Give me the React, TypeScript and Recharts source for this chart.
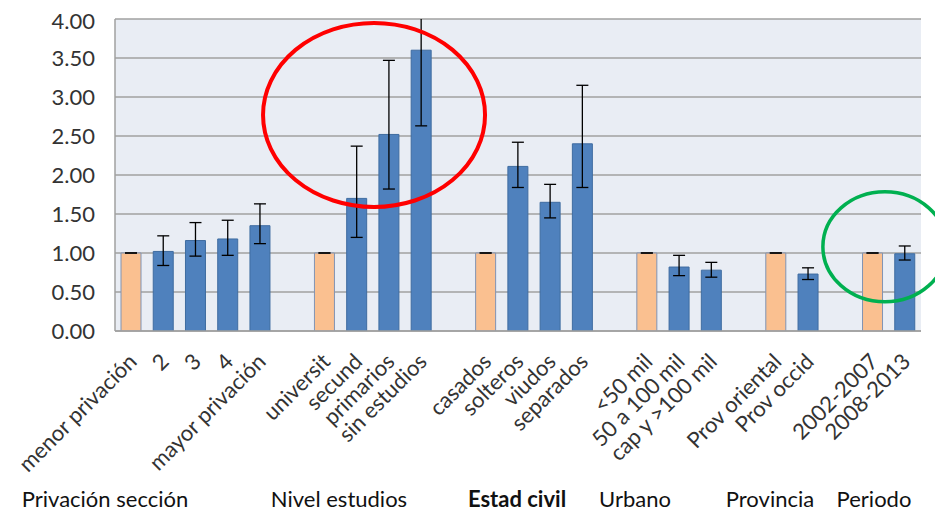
import React from 'react';
import { BarChart, Bar, Cell, XAxis, YAxis, CartesianGrid, ErrorBar, ReferenceDot } from 'recharts';

// blank slots between groups use distinct whitespace so every category stays unique
const categories = [
  'menor privación', '2', '3', '4', 'mayor privación', ' ',
  'universit', 'secund', 'primarios', 'sin estudios', '  ',
  'casados', 'solteros', 'viudos', 'separados', '   ',
  '<50 mil', '50 a 100 mil', 'cap y >100 mil', '    ',
  'Prov oriental', 'Prov occid', '     ',
  '2002-2007', '2008-2013',
];

const values = [
  1.0, 1.02, 1.16, 1.18, 1.35, null,
  1.0, 1.7, 2.52, 3.6, null,
  1.0, 2.11, 1.65, 2.4, null,
  1.0, 0.82, 0.78, null,
  1.0, 0.73, null,
  1.0, 0.99,
];

const lower = [
  1.0, 0.84, 0.96, 0.97, 1.12, null,
  1.0, 1.2, 1.82, 2.63, null,
  1.0, 1.84, 1.45, 1.84, null,
  1.0, 0.71, 0.69, null,
  1.0, 0.66, null,
  1.0, 0.91,
];

const upper = [
  1.0, 1.22, 1.39, 1.42, 1.63, null,
  1.0, 2.37, 3.47, 4.6, null,
  1.0, 2.42, 1.88, 3.15, null,
  1.0, 0.97, 0.88, null,
  1.0, 0.81, null,
  1.0, 1.09,
];

const referenceCategories = ['menor privación', 'universit', 'casados', '<50 mil', 'Prov oriental', '2002-2007'];

const yTicks = [0, 0.5, 1, 1.5, 2, 2.5, 3, 3.5, 4];

const groups = ['Privación sección', 'Nivel estudios', 'Estad civil', 'Urbano', 'Provincia', 'Periodo'];
const groupX = [97, 331, 509, 627, 762, 866];

const data = categories.map((name, i) => ({
  name,
  value: values[i],
  err: values[i] == null ? null : [values[i]! - lower[i]!, upper[i]! - values[i]!],
}));

const FONT = 'Lato, "Open Sans", sans-serif';
const FS = 22;

const XTick = (props: any) => {
  const { x, y, payload } = props;
  const ax = x + 7;
  const ay = y + 24;
  return (
    <text
      x={ax}
      y={ay}
      transform={`rotate(-45 ${ax} ${ay})`}
      textAnchor="end"
      fontFamily={FONT}
      fontSize={FS}
      fill="#333"
    >
      {payload.value}
    </text>
  );
};

export default function App() {
  return (
    <div style={{ fontFamily: FONT }}>
      <BarChart width={935} height={505} data={data} margin={{ top: 11, right: 22, bottom: 0, left: 0 }}>
        <defs>
          <clipPath id="plot-clip">
            <rect x={107} y={11} width={806} height={312} />
          </clipPath>
        </defs>
        <CartesianGrid vertical={false} stroke="#A0A0A0" strokeWidth={1.3} fill="#E9EDF4" />
        <XAxis
          dataKey="name"
          interval={0}
          height={182}
          tickLine={false}
          axisLine={{ stroke: '#A0A0A0', strokeWidth: 1.5 }}
          tick={<XTick />}
        />
        <YAxis
          domain={[0, 4]}
          ticks={yTicks}
          allowDataOverflow
          width={107}
          tickLine={false}
          tickMargin={14}
          axisLine={{ stroke: '#A0A0A0', strokeWidth: 1.5 }}
          tickFormatter={(v: number) => v.toFixed(2)}
          tick={{ fill: '#333', fontSize: FS, fontFamily: FONT }}
        />
        <Bar dataKey="value" barSize={20} isAnimationActive={false}>
          {data.map((d) => {
            const ref = referenceCategories.includes(d.name);
            return (
              <Cell
                key={d.name}
                fill={ref ? '#FAC090' : '#4F81BD'}
                stroke={ref ? '#8093B3' : '#3F6CA0'}
                strokeWidth={1}
              />
            );
          })}
          <ErrorBar
            dataKey="err"
            width={6}
            stroke="#000"
            strokeWidth={1.3}
            direction="y"
            clipPath="url(#plot-clip)"
          />
        </Bar>
        <ReferenceDot
          x="primarios"
          y={2.77}
          ifOverflow="visible"
          shape={(p: any) => (
            <ellipse cx={p.cx - 15} cy={p.cy} rx={111} ry={92} fill="none" stroke="#FF0000" strokeWidth={4} />
          )}
        />
        <ReferenceDot
          x="2008-2013"
          y={1.08}
          ifOverflow="visible"
          shape={(p: any) => (
            <ellipse cx={p.cx - 20} cy={p.cy} rx={62} ry={55} fill="none" stroke="#00B050" strokeWidth={3.5} />
          )}
        />
        {groups.map((g, i) => (
          <text
            key={g}
            x={groupX[i]}
            y={499}
            textAnchor="middle"
            fontFamily={FONT}
            fontSize={FS}
            fontWeight={g === 'Estad civil' ? 'bold' : 'normal'}
            fill="#111"
          >
            {g}
          </text>
        ))}
      </BarChart>
    </div>
  );
}
